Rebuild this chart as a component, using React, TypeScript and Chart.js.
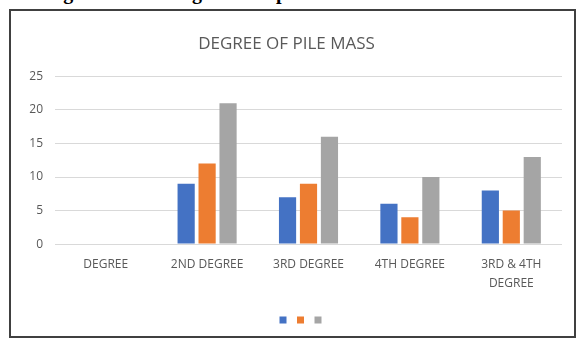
import { useEffect, useRef } from "react";
import { Chart, registerables } from "chart.js";

Chart.register(...registerables);

// Pile mass counts by degree
const categories: (string | string[])[] = [
  "DEGREE",
  "2ND DEGREE",
  "3RD DEGREE",
  "4TH DEGREE",
  ["3RD & 4TH", "DEGREE"],
];
const seriesBlue = [null, 9, 7, 6, 8];
const seriesOrange = [null, 12, 9, 4, 5];
const seriesGray = [null, 21, 16, 10, 13];
const yTicks = [0, 5, 10, 15, 20, 25];

const colors = ["#4472C4", "#ED7D31", "#A5A5A5"];
const textColor = "#595959";
const fontFamily = "'Open Sans', 'DejaVu Sans', sans-serif";

// Words of the caption line above the figure (mostly cut off by the page top)
const captionWords: { text: string; left: number }[] = [
  { text: "Showing", left: 0 },
  { text: "the", left: 110 },
  { text: "degree", left: 172 },
  { text: "of", left: 240 },
  { text: "pile", left: 276 },
  { text: "mass", left: 320 },
];

// The marker-only legend sits a little right of the canvas centre
const legendNudge = {
  id: "legendNudge",
  afterLayout(chart: any) {
    const lg = chart.legend;
    if (lg) {
      lg.left += 17;
      lg.right += 17;
    }
  },
};

function PileMassChart() {
  const canvasRef = useRef<HTMLCanvasElement | null>(null);

  useEffect(() => {
    const canvas = canvasRef.current;
    if (!canvas) return;
    const chart = new Chart(canvas, {
      type: "bar",
      data: {
        labels: categories,
        datasets: [
          { label: "", data: seriesBlue, backgroundColor: colors[0], borderWidth: 0 },
          { label: "", data: seriesOrange, backgroundColor: colors[1], borderWidth: 0 },
          { label: "", data: seriesGray, backgroundColor: colors[2], borderWidth: 0 },
        ],
      },
      plugins: [legendNudge],
      options: {
        responsive: false,
        animation: false,
        datasets: {
          bar: { categoryPercentage: 0.62, barPercentage: 0.82 },
        },
        layout: { padding: { left: 0, right: 12, top: 0, bottom: 0 } },
        plugins: {
          title: {
            display: true,
            text: "DEGREE OF PILE MASS",
            color: textColor,
            font: { family: fontFamily, size: 17, weight: "normal", lineHeight: 1.2 },
            padding: { top: 23, bottom: 22 },
          },
          legend: {
            position: "bottom",
            labels: {
              boxWidth: 7,
              boxHeight: 7,
              padding: 4.5,
              color: textColor,
              font: { family: fontFamily, size: 12 },
            },
          },
          tooltip: { enabled: false },
        },
        scales: {
          x: {
            afterFit: (scale: any) => {
              scale.height += 5;
            },
            grid: { display: false, drawTicks: false },
            border: { display: false },
            ticks: {
              color: textColor,
              padding: 11,
              maxRotation: 0,
              autoSkip: false,
              font: { family: fontFamily, size: 12, lineHeight: 1.6 },
            },
          },
          y: {
            min: 0,
            max: 25,
            afterFit: (scale: any) => {
              scale.width = 44;
            },
            afterBuildTicks: (scale: any) => {
              scale.ticks = yTicks.map((v) => ({ value: v }));
            },
            grid: { color: "#d9d9d9", lineWidth: 1, drawTicks: false },
            border: { display: false },
            ticks: {
              color: textColor,
              padding: 12,
              font: { family: fontFamily, size: 12 },
            },
          },
        },
      },
    });
    return () => chart.destroy();
  }, []);

  return <canvas ref={canvasRef} width={563} height={325} style={{ display: "block" }} />;
}

export default function App() {
  return (
    <div
      style={{
        position: "fixed",
        left: 0,
        top: 0,
        width: 578,
        height: 338,
        overflow: "hidden",
        background: "#fff",
      }}
    >
      <div
        style={{
          position: "absolute",
          left: 0,
          top: -18,
          height: 20,
          width: 578,
          fontFamily: "'Liberation Serif', 'DejaVu Serif', serif",
          fontWeight: "bold",
          fontSize: 20,
          lineHeight: "20px",
          color: "#000",
        }}
      >
        {captionWords.map((w) => (
          <span key={w.text} style={{ position: "absolute", left: w.left, top: 0 }}>
            {w.text}
          </span>
        ))}
      </div>
      <div
        style={{
          position: "absolute",
          left: 9,
          top: 9,
          width: 567,
          height: 329,
          border: "2px solid #404040",
          boxSizing: "border-box",
          background: "#fff",
        }}
      >
        <PileMassChart />
      </div>
    </div>
  );
}
